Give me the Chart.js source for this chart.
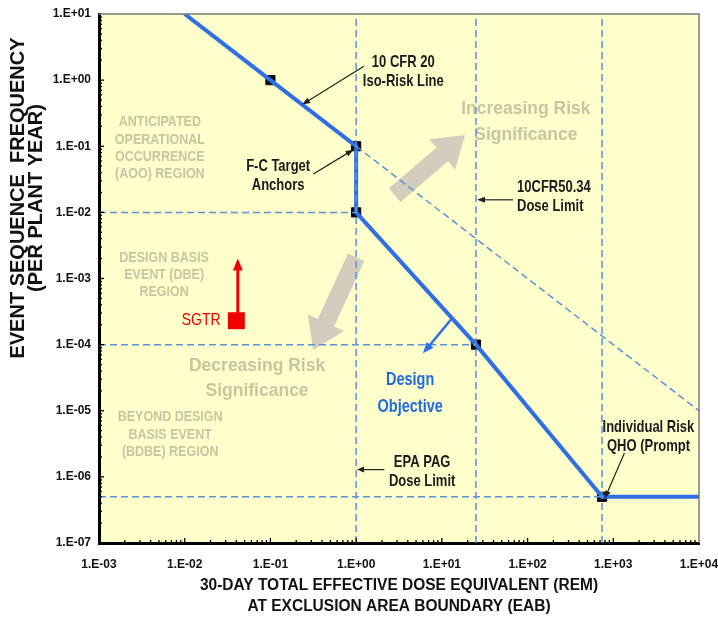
<!DOCTYPE html>
<html><head><meta charset="utf-8">
<script src="https://cdn.jsdelivr.net/npm/chart.js@4.4.1/dist/chart.umd.min.js"></script>
<style>html,body{margin:0;padding:0;background:#fff;}#wrap{width:718px;height:623px;}</style>
</head><body><div id="wrap"><canvas id="c" width="718" height="623"></canvas></div>
<script>
// ---- data ----
const xTickValues = [1e-3, 1e-2, 1e-1, 1e0, 1e1, 1e2, 1e3, 1e4];
const yTickValues = [1e-7, 1e-6, 1e-5, 1e-4, 1e-3, 1e-2, 1e-1, 1e0, 1e1];
const isoRiskLine = [
  {x: 0.01, y: 10}, {x: 0.1, y: 1}, {x: 1, y: 0.1}, {x: 1, y: 0.01},
  {x: 25, y: 1e-4}, {x: 740, y: 5e-7}, {x: 1e4, y: 5e-7}
];
const anchorPoints = [
  {x: 0.1, y: 1}, {x: 1, y: 0.1}, {x: 1, y: 0.01}, {x: 25, y: 1e-4}, {x: 740, y: 5e-7}
];
const isoRiskExtension = [{x: 1, y: 0.1}, {x: 1e4, y: 1e-5}];
const doseLimits = [1, 25, 740];
const freqLimits = [1e-2, 1e-4, 5e-7];
const freqLimitEnds = [1, 25, 740];
const sgtrPoint = [{x: 0.04, y: 2.3e-4}];
const sgtrArrowTop = 2e-3;
const xTitle = ['30-DAY TOTAL EFFECTIVE DOSE EQUIVALENT (REM)', 'AT EXCLUSION AREA BOUNDARY (EAB)'];
const yTitle = ['EVENT SEQUENCE  FREQUENCY', '(PER PLANT YEAR)'];

const X_MIN = 1e-3, X_MAX = 1e4, Y_MIN = 1e-7, Y_MAX = 10;

const FONT = '"Liberation Sans", Arial, sans-serif';
const BLUE = '#2f6fe6';
const DASH_BLUE = '#5a93d8';
const GRAY_TXT = '#c9c4a3';
const GRAY_ARROW = '#d3cdbd';

const dashed = [];
doseLimits.forEach(d => dashed.push([{x: d, y: Y_MIN}, {x: d, y: Y_MAX}]));
freqLimits.forEach((f, i) => dashed.push([{x: X_MIN, y: f}, {x: freqLimitEnds[i], y: f}]));
dashed.push(isoRiskExtension);

const datasets = [];
dashed.forEach(pts => datasets.push({
  data: pts, showLine: true, borderColor: DASH_BLUE, borderWidth: 1.5,
  borderDash: [7, 4], pointRadius: 0, fill: false
}));
datasets.push({data: isoRiskLine, showLine: true, borderColor: BLUE, borderWidth: 4,
  pointRadius: 0, borderJoinStyle: 'miter', fill: false});
datasets.push({data: anchorPoints, showLine: false, pointStyle: 'rect', pointRadius: 6.5,
  backgroundColor: '#0a0a14', borderColor: '#0a0a14', borderWidth: 1});
datasets.push({data: sgtrPoint, showLine: false, pointStyle: 'rect', pointRadius: 12,
  backgroundColor: '#ee0000', borderColor: '#ee0000', borderWidth: 0});

function fmt(v) {
  const e = Math.round(Math.log10(v));
  return '1.E' + (e >= 0 ? '+' : '-') + String(Math.abs(e)).padStart(2, '0');
}
function P(chart, lx, ly) {
  return [chart.scales.x.getPixelForValue(Math.pow(10, lx)), chart.scales.y.getPixelForValue(Math.pow(10, ly))];
}
function lineArrow(ctx, x1, y1, x2, y2, color, w, hl, hw) {
  const a = Math.atan2(y2 - y1, x2 - x1);
  ctx.save();
  ctx.strokeStyle = color; ctx.fillStyle = color; ctx.lineWidth = w;
  ctx.beginPath(); ctx.moveTo(x1, y1);
  ctx.lineTo(x2 - Math.cos(a) * hl * 0.8, y2 - Math.sin(a) * hl * 0.8); ctx.stroke();
  ctx.beginPath(); ctx.moveTo(x2, y2);
  ctx.lineTo(x2 - Math.cos(a) * hl + Math.sin(a) * hw / 2, y2 - Math.sin(a) * hl - Math.cos(a) * hw / 2);
  ctx.lineTo(x2 - Math.cos(a) * hl - Math.sin(a) * hw / 2, y2 - Math.sin(a) * hl + Math.cos(a) * hw / 2);
  ctx.closePath(); ctx.fill();
  ctx.restore();
}
function blockArrow(ctx, x1, y1, x2, y2, color, sw, hl, hw) {
  const a = Math.atan2(y2 - y1, x2 - x1), L = Math.hypot(x2 - x1, y2 - y1);
  ctx.save(); ctx.translate(x1, y1); ctx.rotate(a); ctx.fillStyle = color;
  ctx.beginPath();
  ctx.moveTo(0, -sw / 2); ctx.lineTo(L - hl, -sw / 2); ctx.lineTo(L - hl, -hw / 2);
  ctx.lineTo(L, 0); ctx.lineTo(L - hl, hw / 2); ctx.lineTo(L - hl, sw / 2); ctx.lineTo(0, sw / 2);
  ctx.closePath(); ctx.fill(); ctx.restore();
}
function text(ctx, lines, x, y, opt) {
  ctx.save();
  ctx.font = (opt.weight || 'bold') + ' ' + opt.size + 'px ' + FONT;
  ctx.fillStyle = opt.color; ctx.textAlign = opt.align || 'center'; ctx.textBaseline = 'middle';
  const sy = opt.sy || 1;
  lines.forEach((l, i) => {
    ctx.save(); ctx.translate(x, y + i * opt.lh); ctx.scale(1, sy);
    ctx.fillText(l, 0, 0); ctx.restore();
  });
  ctx.restore();
}

const decorPlugin = {
  id: 'decor',
  beforeDraw(chart) {
    const {ctx, chartArea: a} = chart;
    ctx.save();
    ctx.fillStyle = '#ffffff'; ctx.fillRect(0, 0, chart.width, chart.height);
    ctx.fillStyle = '#ffffcc'; ctx.fillRect(a.left, a.top, a.right - a.left, a.bottom - a.top);
    ctx.restore();
  },
  beforeDatasetsDraw(chart) {
    const ctx = chart.ctx;
    let s = P(chart, 0.45, -1.74), e = P(chart, 1.27, -0.83);
    blockArrow(ctx, s[0], s[1], e[0], e[1], GRAY_ARROW, 18, 30, 40);
    s = P(chart, 0.0, -2.68); e = P(chart, -0.50, -4.08);
    blockArrow(ctx, s[0], s[1], e[0], e[1], GRAY_ARROW, 18, 30, 40);
    let p = P(chart, -2.29, -0.64);
    text(ctx, ['ANTICIPATED', 'OPERATIONAL', 'OCCURRENCE', '(AOO) REGION'], p[0], p[1], {size: 12.5, color: GRAY_TXT, lh: 17.3, sy: 1.12});
    p = P(chart, -2.24, -2.69);
    text(ctx, ['DESIGN BASIS', 'EVENT (DBE)', 'REGION'], p[0], p[1], {size: 12.5, color: GRAY_TXT, lh: 17, sy: 1.12});
    p = P(chart, -2.17, -5.1);
    text(ctx, ['BEYOND DESIGN', 'BASIS EVENT', '(BDBE) REGION'], p[0], p[1], {size: 12.5, color: GRAY_TXT, lh: 17.5, sy: 1.12});
    p = P(chart, 1.98, -0.44);
    text(ctx, ['Increasing Risk', 'Significance'], p[0], p[1], {size: 17.5, color: GRAY_TXT, lh: 26, sy: 1.08});
    p = P(chart, -1.156, -4.325);
    text(ctx, ['Decreasing Risk', 'Significance'], p[0], p[1], {size: 17.5, color: GRAY_TXT, lh: 25, sy: 1.08});
  },
  afterDatasetsDraw(chart) {
    const {ctx, chartArea: a} = chart;
    const xs = chart.scales.x, ys = chart.scales.y;
    ctx.save();
    ctx.strokeStyle = '#7a7a7a'; ctx.lineWidth = 1.5;
    ctx.beginPath(); ctx.moveTo(a.left, a.top); ctx.lineTo(a.right, a.top); ctx.lineTo(a.right, a.bottom); ctx.stroke();
    ctx.strokeStyle = '#000'; ctx.lineWidth = 1.3;
    for (let e = -3; e < 4; e++) for (let m = 1; m < 10; m++) {
      const px = xs.getPixelForValue(m * Math.pow(10, e));
      const len = m === 1 ? 5 : 3;
      ctx.beginPath(); ctx.moveTo(px, a.bottom); ctx.lineTo(px, a.bottom - len); ctx.stroke();
    }
    for (let e = -7; e < 1; e++) for (let m = 1; m < 10; m++) {
      const py = ys.getPixelForValue(m * Math.pow(10, e));
      const len = m === 1 ? 5 : 3;
      ctx.beginPath(); ctx.moveTo(a.left, py); ctx.lineTo(a.left + len, py); ctx.stroke();
    }
    ctx.restore();
    const sx = xs.getPixelForValue(sgtrPoint[0].x) + 1.5;
    const sy = ys.getPixelForValue(sgtrPoint[0].y) - 8;
    lineArrow(ctx, sx, sy, sx, ys.getPixelForValue(sgtrArrowTop), '#ee0000', 3, 12, 10);
    let p = P(chart, -1.43, -3.64);
    text(ctx, ['SGTR'], p[0] - 13, p[1], {size: 14, weight: 'normal', color: '#ee0000', lh: 0, align: 'right', sy: 1.2});
    let s = P(chart, 1.12, -3.6), e = P(chart, 0.78, -4.13);
    lineArrow(ctx, s[0], s[1], e[0], e[1], BLUE, 2.5, 11, 9);
    p = P(chart, 0.63, -4.54);
    text(ctx, ['Design', 'Objective'], p[0], p[1], {size: 14.5, color: '#1f6ae0', lh: 27, sy: 1.22});
    const DK = '#1a1a1a';
    p = P(chart, 0.55, 0.27);
    text(ctx, ['10 CFR 20', 'Iso-Risk Line'], p[0], p[1], {size: 13, color: DK, lh: 19, sy: 1.25});
    s = P(chart, 0.09, 0.21); e = P(chart, -0.63, -0.37);
    lineArrow(ctx, s[0], s[1], e[0], e[1], '#222', 1.2, 8, 6);
    p = P(chart, -0.91, -1.30);
    text(ctx, ['F-C Target', 'Anchors'], p[0], p[1], {size: 13, color: DK, lh: 19, sy: 1.25});
    s = P(chart, -0.50, -1.42); e = P(chart, -0.03, -1.05);
    lineArrow(ctx, s[0], s[1], e[0], e[1], '#222', 1.2, 8, 6);
    p = P(chart, 1.877, -1.63);
    text(ctx, ['10CFR50.34', 'Dose Limit'], p[0], p[1], {size: 13, color: DK, lh: 19, align: 'left', sy: 1.25});
    s = P(chart, 1.83, -1.81); e = P(chart, 1.41, -1.81);
    lineArrow(ctx, s[0], s[1], e[0], e[1], '#222', 1.2, 8, 6);
    p = P(chart, 0.77, -5.78);
    text(ctx, ['EPA PAG', 'Dose Limit'], p[0], p[1], {size: 13, color: DK, lh: 19, sy: 1.25});
    s = P(chart, 0.33, -5.89); e = P(chart, 0.01, -5.89);
    lineArrow(ctx, s[0], s[1], e[0], e[1], '#222', 1.2, 7, 6);
    p = P(chart, 3.41, -5.25);
    text(ctx, ['Individual Risk', 'QHO (Prompt'], p[0], p[1], {size: 13, color: DK, lh: 19, sy: 1.25});
    s = P(chart, 3.13, -5.64); e = P(chart, 2.9, -6.33);
    lineArrow(ctx, s[0], s[1], e[0], e[1], '#222', 1.2, 8, 6);
  },
  afterDraw(chart) {
    const ctx = chart.ctx, a = chart.chartArea;
    text(ctx, xTitle, (a.left + a.right) / 2, 585, {size: 15.5, color: '#111', lh: 21, sy: 1.12});
    ctx.save(); ctx.translate(18, 198); ctx.rotate(-Math.PI / 2);
    text(ctx, yTitle, 0, 0, {size: 20, color: '#111', lh: 18});
    ctx.restore();
  }
};

new Chart(document.getElementById('c'), {
  type: 'scatter',
  data: {datasets},
  options: {
    responsive: false, animation: false,
    layout: {padding: {top: 14, right: 19, left: 0, bottom: 0}},
    plugins: {legend: {display: false}, tooltip: {enabled: false}},
    scales: {
      x: {
        type: 'logarithmic', min: X_MIN, max: X_MAX,
        afterBuildTicks: s => { s.ticks = xTickValues.map(v => ({value: v, major: true})); },
        afterFit: s => { s.height = 80; s.paddingLeft = 0; s.paddingRight = 0; },
        ticks: {callback: fmt, font: {family: FONT, size: 12, weight: 'bold'}, color: '#111',
                padding: 14, maxRotation: 0, autoSkip: false},
        grid: {display: false, drawTicks: false},
        border: {display: true, color: '#000', width: 3},
        title: {display: false, text: xTitle}
      },
      y: {
        type: 'logarithmic', min: Y_MIN, max: Y_MAX,
        afterBuildTicks: s => { s.ticks = yTickValues.map(v => ({value: v, major: true})); },
        afterFit: s => { s.width = 99; s.paddingTop = 0; s.paddingBottom = 0; },
        ticks: {callback: fmt, font: {family: FONT, size: 12, weight: 'bold'}, color: '#111',
                padding: 8, autoSkip: false},
        grid: {display: false, drawTicks: false},
        border: {display: true, color: '#000', width: 3},
        title: {display: false, text: yTitle}
      }
    }
  },
  plugins: [decorPlugin]
});
</script></body></html>
